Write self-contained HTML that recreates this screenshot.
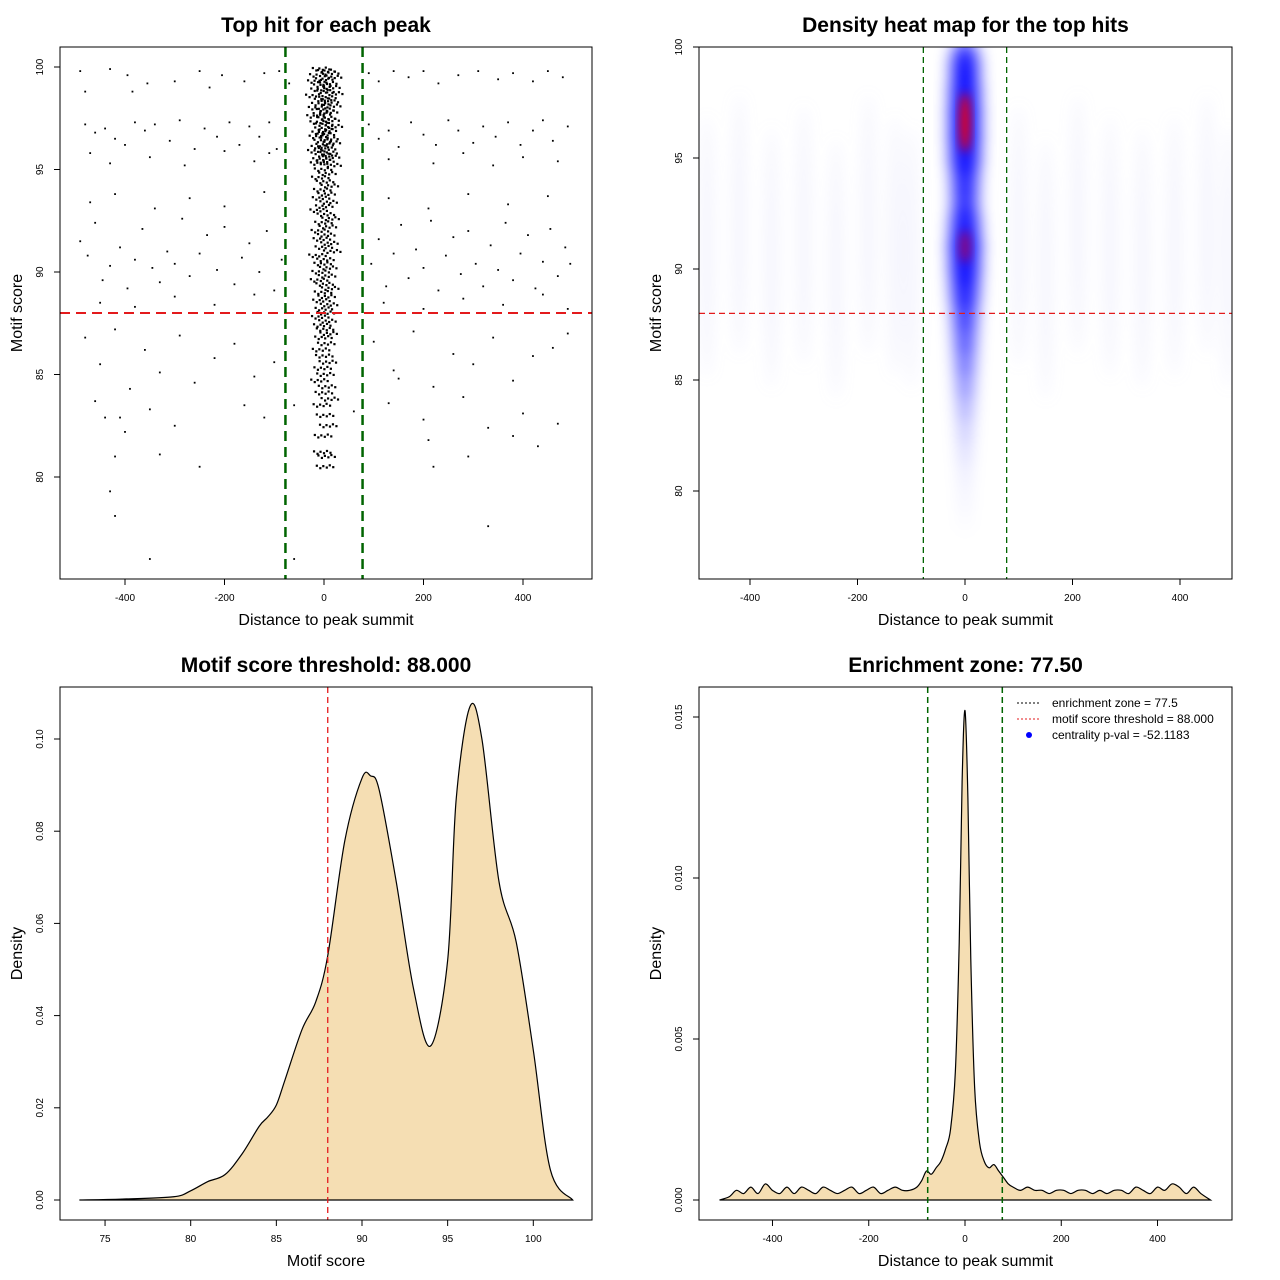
<!DOCTYPE html>
<html><head><meta charset="utf-8"><style>
html,body{margin:0;padding:0;background:#fff}
svg{display:block;font-family:"Liberation Sans",sans-serif}
</style></head><body>
<svg id="c" width="1280" height="1280" viewBox="0 0 1280 1280">
<defs>
<filter id="blur" x="-50%" y="-50%" width="200%" height="200%"><feGaussianBlur stdDeviation="7"/></filter>
<filter id="blur2" x="-50%" y="-50%" width="200%" height="200%"><feGaussianBlur stdDeviation="8"/></filter>
<filter id="blur3" x="-50%" y="-50%" width="200%" height="200%"><feGaussianBlur stdDeviation="5"/></filter>
<clipPath id="clip2"><rect x="699" y="47" width="533" height="532"/></clipPath>
</defs>
</svg>
<script>
// ===== Panel 1 data =====
const outerX=[-490,-480,-430,-395,-385,-355,-300,-250,-230,-205,-160,-120,-90,-70,-480,-460,-440,-420,-400,-380,-360,-340,-310,-290,-260,-240,-215,-190,-170,-150,-130,-110,-95,-470,-430,-350,-280,-200,-140,-110,
90,110,140,170,200,230,270,310,350,380,420,450,480,90,110,130,150,175,200,225,250,270,300,320,345,370,395,420,440,460,490,130,220,280,340,400,470,
-490,-475,-460,-445,-430,-410,-395,-380,-365,-345,-330,-315,-300,-285,-270,-250,-235,-215,-200,-180,-165,-150,-130,-115,-100,-85,-470,-420,-340,-270,-200,-120,-450,-380,-300,-220,-140,
95,110,125,140,155,170,185,200,215,230,245,260,275,290,305,320,335,350,365,380,395,410,425,440,455,470,485,495,130,210,290,370,450,120,200,280,360,440,490,
-480,-450,-420,-390,-360,-330,-290,-260,-220,-180,-140,-100,-460,-410,-350,-300,-160,-120,-440,-400,-330,-420,-250,-430,-420,-350,-60,
100,140,180,220,260,300,340,380,420,460,490,130,200,280,330,400,470,210,290,380,430,330,220,150,60,-60];
const outerY=[99.8,98.8,99.9,99.6,98.8,99.2,99.3,99.8,99,99.6,99.3,99.7,99.8,99.2,97.2,96.8,97.0,96.5,96.2,97.3,96.9,97.2,96.4,97.4,96.0,97.0,96.6,97.3,96.2,97.1,96.6,97.3,96.0,95.8,95.3,95.6,95.2,95.9,95.4,95.8,
99.7,99.3,99.8,99.5,99.8,99.2,99.6,99.8,99.4,99.7,99.3,99.8,99.5,97.2,96.5,96.9,96.1,97.3,96.7,96.2,97.4,96.9,96.3,97.1,96.6,97.3,96.2,96.9,97.4,96.4,97.1,95.5,95.3,95.8,95.2,95.6,95.4,
91.5,90.8,92.4,89.6,90.3,91.2,89.2,90.6,92.1,90.2,89.5,91.0,90.4,92.6,89.8,90.9,91.8,90.1,92.2,89.4,90.7,91.4,90.0,92.0,89.1,90.6,93.4,93.8,93.1,93.6,93.2,93.9,88.5,88.3,88.8,88.4,88.9,
90.4,91.6,89.3,90.9,92.3,89.7,91.1,90.2,92.5,89.1,90.8,91.7,89.9,92.0,90.4,89.3,91.3,90.1,92.4,89.6,90.9,91.8,89.2,90.5,92.1,89.8,91.2,90.4,93.6,93.1,93.8,93.3,93.7,88.5,88.2,88.7,88.4,88.9,88.2,
86.8,85.5,87.2,84.3,86.2,85.1,86.9,84.6,85.8,86.5,84.9,85.6,83.7,82.9,83.3,82.5,83.5,82.9,82.9,82.2,81.1,81.0,80.5,79.3,78.1,76.0,76.0,
86.6,85.2,87.1,84.4,86.0,85.5,86.8,84.7,85.9,86.3,87.0,83.6,82.8,83.9,82.4,83.1,82.6,81.8,81.0,82.0,81.5,77.6,80.5,84.8,83.2,83.5];
const centerX=[-8,5,15,-15,22,0,-20,10,-5,18,-12,3,25,-25,8,-3,14,-10,20,-18,2,12,-6,-22,6,16,-14,0,24,-2,9,-9,4,-16,13,-4,19,1,-11,7,-20,11,-1,17,-7,3,-13,21,-3,8,-10,2,14,-5,6,-8,11,0,-14,4,16,-2,9,-11,5,-6,13,-1,20,-17,3,-4,10,-9,7,-13,1,15,-3,6,-7,12,-1,4,-10,8,-5,2,11,-2,5,-8,0,9,-4,3,-12,7,-1,14,-6,2,10,-3,-5,6,2];
const centerY=[99.9,99.8,99.7,99.6,99.5,99.4,99.3,99.2,99.1,99.0,98.9,98.8,98.7,98.6,98.5,98.4,98.3,98.2,98.1,98.0,97.9,97.8,97.7,97.6,97.5,97.4,97.3,97.2,97.1,97.0,96.9,96.8,96.7,96.6,96.5,96.4,96.3,96.2,96.1,96.0,95.9,95.8,95.7,95.6,95.5,95.4,95.3,95.2,95.0,94.8,94.6,94.4,94.2,94.0,93.8,93.6,93.4,93.2,93.0,92.8,92.6,92.4,92.2,92.0,91.8,91.6,91.4,91.2,91.0,90.8,90.6,90.4,90.2,90.0,89.8,89.6,89.4,89.2,89.0,88.8,88.6,88.4,88.2,88.0,87.8,87.6,87.4,87.2,87.0,86.8,86.5,86.2,85.9,85.6,85.3,85.0,84.7,84.4,84.1,83.8,83.5,83.0,82.5,82.0,81.2,81.0,80.5];
const p1XTicks=[-400,-200,0,200,400];
const p1YTicks=[80,85,90,95,100];
const threshold=88, zone=77.5;
// ===== Panel 2 data =====
const streakX=[-480,-420,-360,-300,-240,-180,-130,-100,100,150,210,270,330,390,450,490];
const streakY=[91,92,90.5,91.5,90,92,91,90.5,91.5,90,92,91,90.5,91,92,90.5];
const coreY=[99.5,99,98,97,96,95,94,93,92,91,90,89,88,87,86,85,84,83,82,81,80,79];
const coreLevel=[0.7,0.85,0.95,1.0,1.0,0.95,0.8,0.75,0.9,1.0,0.95,0.85,0.7,0.6,0.5,0.4,0.3,0.2,0.14,0.08,0.05,0.03];
const redY=[96.6,91.0];
const redLevel=[1.0,0.55];
const p2XTicks=[-400,-200,0,200,400];
const p2YTicks=[80,85,90,95,100];
// ===== Panel 3 data =====
const scoreX=[73.5,76,79,80,81,82,83,84,84.5,85,85.5,86.5,87.3,88,89,90,90.5,91,92,93,94,95,95.5,96.3,97,98,99,100,101,102.3];
const scoreD=[0,0.0002,0.0007,0.002,0.004,0.0055,0.010,0.016,0.018,0.0206,0.026,0.037,0.043,0.053,0.078,0.0915,0.092,0.089,0.069,0.046,0.0334,0.052,0.087,0.107,0.100,0.069,0.056,0.0325,0.0065,0];
const p3XTicks=[75,80,85,90,95,100];
const p3YTicks=[0,0.02,0.04,0.06,0.08,0.10];
const p3YLabels=["0.00","0.02","0.04","0.06","0.08","0.10"];
// ===== Panel 4 data =====
const distX=[-510,-490,-475,-460,-445,-430,-415,-400,-385,-370,-355,-340,-325,-310,-295,-280,-265,-250,-235,-220,-205,-190,-175,-160,-145,-130,-115,-100,-90,-80,-70,-60,-50,-40,-30,-20,-12,-6,0,6,12,20,30,40,50,60,70,80,90,100,115,130,145,160,175,190,205,220,235,250,265,280,295,310,325,340,355,370,385,400,415,430,445,460,475,490,510];
const distD=[0,0.0001,0.0003,0.0002,0.0004,0.0002,0.0005,0.0003,0.0002,0.0004,0.0002,0.0004,0.0003,0.0002,0.0004,0.0003,0.0002,0.0003,0.0004,0.0002,0.0003,0.0004,0.0002,0.0003,0.0004,0.0003,0.0003,0.0004,0.0006,0.0009,0.0008,0.0010,0.0012,0.0016,0.0022,0.0040,0.0080,0.0130,0.0152,0.0125,0.0075,0.0035,0.0018,0.0012,0.0010,0.0011,0.0009,0.0007,0.0005,0.0004,0.0003,0.0004,0.0003,0.0003,0.0002,0.0003,0.0003,0.0002,0.0003,0.0003,0.0002,0.0003,0.0002,0.0003,0.0003,0.0002,0.0004,0.0003,0.0002,0.0004,0.0003,0.0005,0.0004,0.0002,0.0004,0.0002,0];
const p4XTicks=[-400,-200,0,200,400];
const p4YTicks=[0,0.005,0.010,0.015];
const p4YLabels=["0.000","0.005","0.010","0.015"];

const NS="http://www.w3.org/2000/svg";
const svg=document.getElementById('c');
function mk(tag,attrs,parent){const e=document.createElementNS(NS,tag);for(const k in attrs)e.setAttribute(k,attrs[k]);(parent||svg).appendChild(e);return e;}
function txt(s,x,y,size,attrs){const e=mk('text',Object.assign({x:x,y:y,'font-size':size,'text-anchor':'middle',fill:'#000'},attrs||{}));e.textContent=s;return e;}

const p1x=v=>324+v*0.4975, p1y=v=>272-(v-90)*20.5;
const p2x=v=>965+v*0.5375, p2y=v=>269-(v-90)*22.2;
const p3x=v=>362+(v-90)*17.13, p3y=v=>1200-v*4610;
const p4x=v=>965+v*0.4813, p4y=v=>1200-v*32200;

function axes(box,xt,xl,xf,yt,yl,yf,xtitle,ytitle,title,prefix){
  const r=mk('rect',{x:box[0],y:box[1],width:box[2]-box[0],height:box[3]-box[1],fill:'none',stroke:'#000','stroke-width':1});
  
  
  xt.forEach((v,i)=>{const x=xf(v);
    mk('line',{x1:x,x2:x,y1:box[3],y2:box[3]+6,stroke:'#000'});
    const t=txt(xl[i],x,box[3]+22,10);
    
    });
  yt.forEach((v,i)=>{const y=yf(v);
    mk('line',{x1:box[0]-6,x2:box[0],y1:y,y2:y,stroke:'#000'});
    const t=txt(yl[i],box[0]-17,y,10,{transform:`rotate(-90 ${box[0]-17} ${y})`});
    
    });
  let t=txt(xtitle,(box[0]+box[2])/2,box[3]+46,16);
  
  
  const yx=box[0]-38,yy=(box[1]+box[3])/2;
  t=txt(ytitle,yx,yy,16,{transform:`rotate(-90 ${yx} ${yy})`});
  
  
  t=txt(title,(box[0]+box[2])/2,box[1]-15,21,{'font-weight':'bold'});
  
  
}

// ===== Panel 1 =====
const g1=mk('g',{});


outerX.forEach((v,i)=>{const d=mk('rect',{x:p1x(v)-0.9,y:p1y(outerY[i])-0.9,width:1.8,height:1.8,fill:'#000'},g1);
  });
const jx=[-16,-9,-3,4,10,17], jy=[0.05,-0.07,0.03,-0.04,0.07,-0.02];
centerX.forEach((v,i)=>{for(let k=0;k<jx.length;k++){const d=mk('rect',{x:p1x(v*0.8+jx[k])-1.1,y:p1y(centerY[i]+jy[k])-1.1,width:2.2,height:2.2,fill:'#000'},g1);
  }});
let l=mk('line',{x1:60,x2:592,y1:p1y(threshold),y2:p1y(threshold),stroke:'#e31a1c','stroke-width':2,'stroke-dasharray':'10,6'});

[-zone,zone].forEach(z=>{const ln=mk('line',{x1:p1x(z),x2:p1x(z),y1:47,y2:579,stroke:'#006400','stroke-width':2.5,'stroke-dasharray':'10,6'});
  });
axes([60,47,592,579],p1XTicks,p1XTicks.map(String),p1x,p1YTicks,p1YTicks.map(String),p1y,'Distance to peak summit','Motif score','Top hit for each peak','p1');

// ===== Panel 2 =====
const g2=mk('g',{'clip-path':'url(#clip2)'});


const gs=mk('g',{filter:'url(#blur)'},g2);
streakX.forEach((v,i)=>{const e=mk('ellipse',{cx:p2x(v),cy:p2y(streakY[i]),rx:7,ry:130,fill:'#c8c8f4','fill-opacity':0.18},gs);
  });
const gc=mk('g',{filter:'url(#blur2)'},g2);
coreY.forEach((v,i)=>{const e=mk('ellipse',{cx:p2x(0),cy:p2y(v),rx:5+11*coreLevel[i],ry:20,fill:'#0000ff','fill-opacity':Math.min(1,coreLevel[i]*0.9)},gc);
  });
const gr=mk('g',{filter:'url(#blur3)'},g2);
redY.forEach((v,i)=>{const e=mk('ellipse',{cx:p2x(0),cy:p2y(v),rx:5,ry:30*redLevel[i],fill:'#ff0000','fill-opacity':redLevel[i]},gr);
  });
l=mk('line',{x1:699,x2:1232,y1:p2y(threshold),y2:p2y(threshold),stroke:'#e31a1c','stroke-width':1.3,'stroke-dasharray':'6,4'});

[-zone,zone].forEach(z=>{const ln=mk('line',{x1:p2x(z),x2:p2x(z),y1:47,y2:579,stroke:'#006400','stroke-width':1.3,'stroke-dasharray':'6,4'});
  });
axes([699,47,1232,579],p2XTicks,p2XTicks.map(String),p2x,p2YTicks,p2YTicks.map(String),p2y,'Distance to peak summit','Motif score','Density heat map for the top hits','p2');

// ===== Panel 3 =====
function curve(xs,ys,fx,fy){let d=`M${fx(xs[0])},${fy(0)}`;
  const pts=xs.map((v,i)=>[fx(v),fy(ys[i])]);
  d+=` L${pts[0][0]},${pts[0][1]}`;
  for(let i=0;i<pts.length-1;i++){const p0=pts[i-1]||pts[i],p1=pts[i],p2=pts[i+1],p3=pts[i+2]||p2;
    d+=` C${p1[0]+(p2[0]-p0[0])/6},${p1[1]+(p2[1]-p0[1])/6} ${p2[0]-(p3[0]-p1[0])/6},${p2[1]-(p3[1]-p1[1])/6} ${p2[0]},${p2[1]}`;}
  return d+` L${fx(xs[xs.length-1])},${fy(0)} Z`;}
let a=mk('path',{d:curve(scoreX,scoreD,p3x,p3y),fill:'#f5deb3',stroke:'#000','stroke-width':1.2});

l=mk('line',{x1:p3x(threshold),x2:p3x(threshold),y1:687,y2:1220,stroke:'#e31a1c','stroke-width':1.3,'stroke-dasharray':'6,4'});

axes([60,687,592,1220],p3XTicks,p3XTicks.map(String),p3x,p3YTicks,p3YLabels,p3y,'Motif score','Density','Motif score threshold: 88.000','p3');

// ===== Panel 4 =====
a=mk('path',{d:curve(distX,distD,p4x,p4y),fill:'#f5deb3',stroke:'#000','stroke-width':1.2});

[-zone,zone].forEach(z=>{const ln=mk('line',{x1:p4x(z),x2:p4x(z),y1:687,y2:1220,stroke:'#006400','stroke-width':1.5,'stroke-dasharray':'6,4'});
  });
axes([699,687,1232,1220],p4XTicks,p4XTicks.map(String),p4x,p4YTicks,p4YLabels,p4y,'Distance to peak summit','Density','Enrichment zone: 77.50','p4');
const lg=mk('g',{});

[['enrichment zone = 77.5','#000','line'],['motif score threshold = 88.000','#e31a1c','line'],['centrality p-val = -52.1183','#0000ff','dot']].forEach((r,i)=>{
  const y=703+i*16;
  if(r[2]==='line'){mk('line',{x1:1017,x2:1041,y1:y,y2:y,stroke:r[1],'stroke-dasharray':'2,2'},lg);}
  else{mk('circle',{cx:1029,cy:y,r:3,fill:r[1]},lg);}
  const t=txt(r[0],1052,y+4,12,{'text-anchor':'start'});lg.appendChild(t);
  
});
</script>
</body></html>
